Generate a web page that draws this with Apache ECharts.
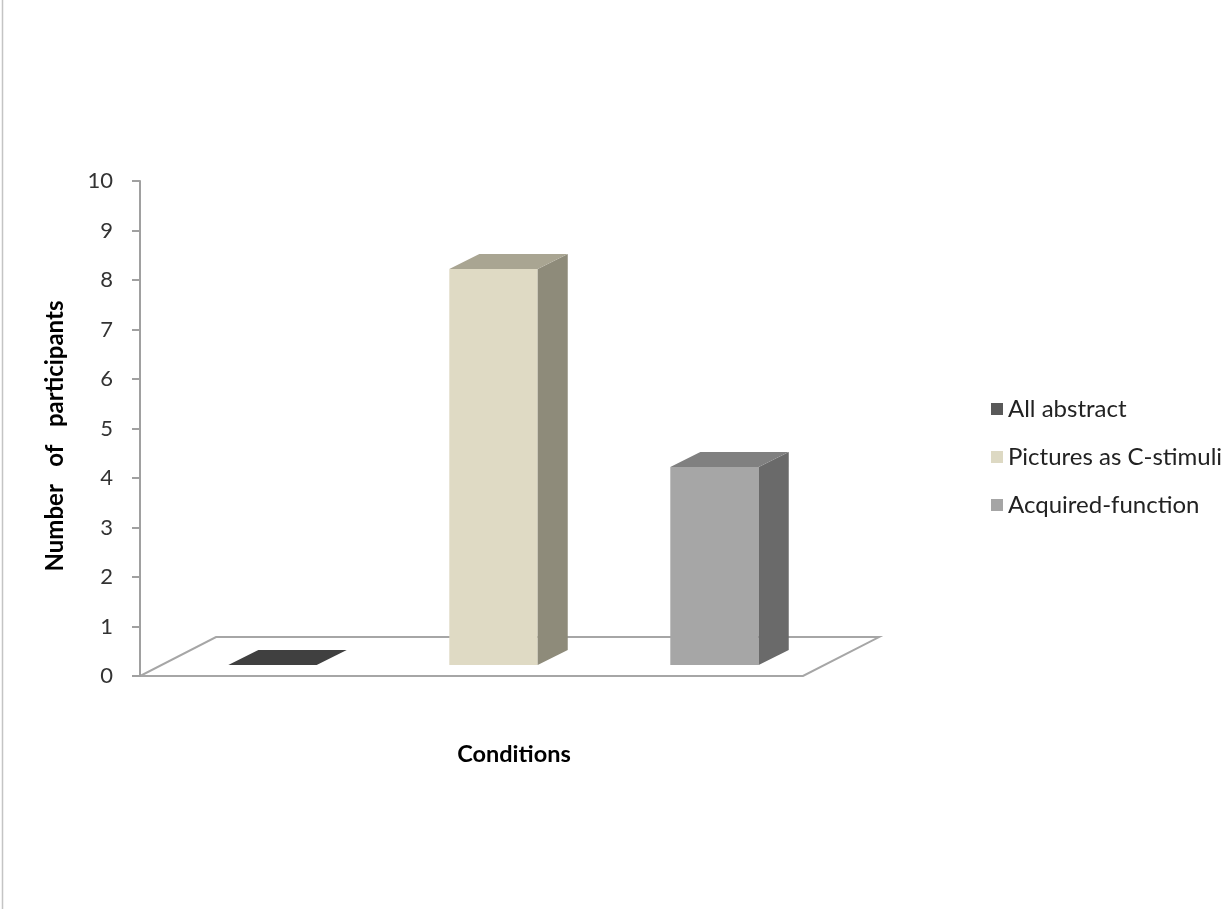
<!DOCTYPE html>
<html>
<head>
<meta charset="utf-8">
<style>html,body{margin:0;padding:0;background:#fff;}#c{width:1223px;height:909px;}</style>
<script src="https://cdn.jsdelivr.net/npm/echarts@6/dist/echarts.min.js"></script>
</head>
<body>
<div id="c"></div>
<script>
var seriesNames = ['All abstract', 'Pictures as C-stimuli', 'Acquired-function'];
var seriesValues = [0, 8, 4];
var yTicks = [0, 1, 2, 3, 4, 5, 6, 7, 8, 9, 10];
var frontColors = ['#454545', '#dfdac4', '#a6a6a6'];
var sideColors = ['#2e2e2e', '#8e8b7a', '#6a6a6a'];
var topColors = ['#404040', '#a9a592', '#808080'];
var legendColors = ['#595959', '#ddd9c3', '#a5a5a5'];

var chart = echarts.init(document.getElementById('c'), null, {renderer: 'canvas'});
var FONT = 'Lato';

function renderBar(params, api) {
  var idx = api.value(0), v = api.value(1);
  var s = params.seriesIndex - 1;
  var base = api.coord([idx, 0]);
  var topP = api.coord([idx, v]);
  var band = api.size([1, 0])[0];
  var w = band * 0.40;
  var fx = band * 0.0995, fy = -band * 0.05;
  var dx = band * 0.136, dy = -band * 0.068;
  var x0 = base[0] + fx - w / 2, x1 = x0 + w;
  var yb = base[1] + fy, yt = topP[1] + fy;
  var children = [];
  if (v > 0) {
    children.push({type: 'polygon', shape: {points: [[x0, yb], [x1, yb], [x1, yt], [x0, yt]]}, style: {fill: frontColors[s]}});
    children.push({type: 'polygon', shape: {points: [[x1, yb], [x1 + dx, yb + dy], [x1 + dx, yt + dy], [x1, yt]]}, style: {fill: sideColors[s]}});
  }
  children.push({type: 'polygon', shape: {points: [[x0, yt], [x0 + dx, yt + dy], [x1 + dx, yt + dy], [x1, yt]]}, style: {fill: topColors[s]}});
  return {type: 'group', children: children};
}

function renderFloor(params, api) {
  var cs = params.coordSys;
  var band = api.size([1, 0])[0];
  var Dx = band * 0.344, Dy = -band * 0.176;
  var yb = cs.y + cs.height;
  return {
    type: 'polygon',
    shape: {points: [[cs.x, yb], [cs.x + cs.width, yb], [cs.x + cs.width + Dx, yb + Dy], [cs.x + Dx, yb + Dy]]},
    style: {fill: '#ffffff', stroke: '#a6a6a6', lineWidth: 2}
  };
}

var series = [{
  type: 'custom', name: 'floor', silent: true, renderItem: renderFloor,
  data: [[0, 0]], z: 1
}];
seriesNames.forEach(function (n, i) {
  series.push({
    type: 'custom', name: n, renderItem: renderBar,
    itemStyle: {color: legendColors[i]},
    encode: {x: 0, y: 1},
    data: [[i, seriesValues[i]]], z: 3
  });
});

chart.setOption({
  animation: false,
  backgroundColor: '#ffffff',
  grid: {left: 140, top: 181, width: 663, height: 495, containLabel: false},
  xAxis: {
    type: 'category', data: seriesNames,
    axisLine: {show: false}, axisTick: {show: false}, axisLabel: {show: false}, splitLine: {show: false}
  },
  yAxis: {
    type: 'value', min: yTicks[0], max: yTicks[yTicks.length - 1], interval: 1,
    axisLine: {show: true, lineStyle: {color: '#a0a0a0', width: 2}},
    axisTick: {show: true, length: 8, lineStyle: {color: '#a0a0a0', width: 2}},
    axisLabel: {fontFamily: FONT, fontSize: 22, color: '#333', margin: 27},
    splitLine: {show: false}, z: 5
  },
  legend: {
    orient: 'vertical', left: 986, top: 392,
    data: seriesNames,
    icon: 'rect', itemWidth: 12, itemHeight: 12, itemGap: 24,
    textStyle: {fontFamily: FONT, fontSize: 24, lineHeight: 24, color: '#222', padding: [0, 0, 0, 0]},
    selectedMode: false
  },
  graphic: [
    {type: 'text', x: 514, y: 754, style: {text: 'Conditions', font: 'bold 23.5px ' + FONT, fill: '#000', align: 'center', verticalAlign: 'middle'}},
    {type: 'text', x: 55, y: 436, rotation: Math.PI / 2, style: {text: 'Number   of   participants', font: 'bold 24px ' + FONT, fill: '#000', align: 'center', verticalAlign: 'middle'}},
    {type: 'line', shape: {x1: 2.5, y1: 0, x2: 2.5, y2: 909}, style: {stroke: '#c4c4c4', lineWidth: 1.5}}
  ],
  series: series
});
</script>
</body>
</html>
